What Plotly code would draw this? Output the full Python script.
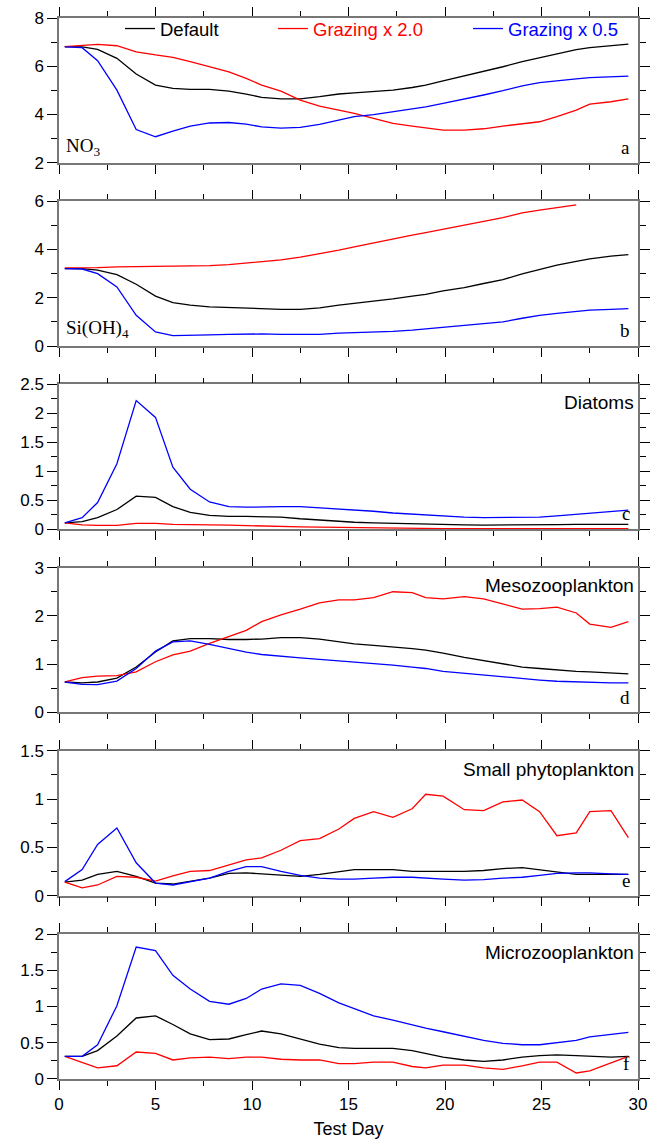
import plotly.graph_objects as go
from plotly.subplots import make_subplots

# ---------------- data ----------------
days = [0.3, 1.2, 2.0, 3.0, 4.0, 5.0, 5.9, 6.8, 7.8, 8.8, 9.7, 10.5, 11.5, 12.5, 13.5, 14.5,
        15.3, 16.3, 17.3, 18.3, 19.0, 19.9, 21.0, 22.0, 23.0, 24.0, 24.9, 25.8, 26.8, 27.5, 28.6, 29.5]

series_names = ["Default", "Grazing x 2.0", "Grazing x 0.5"]

no3_default = [6.81, 6.80, 6.70, 6.33, 5.68, 5.22, 5.08, 5.04, 5.04, 4.97, 4.85, 4.71, 4.65, 4.65, 4.74, 4.85,
               4.90, 4.94, 5.01, 5.12, 5.22, 5.39, 5.59, 5.77, 5.98, 6.19, 6.35, 6.51, 6.69, 6.77, 6.85, 6.92]
no3_g2 = [6.81, 6.85, 6.91, 6.85, 6.60, 6.47, 6.37, 6.19, 5.98, 5.77, 5.50, 5.22, 4.97, 4.60, 4.35, 4.18,
          4.05, 3.84, 3.63, 3.52, 3.44, 3.35, 3.35, 3.41, 3.52, 3.62, 3.70, 3.91, 4.18, 4.43, 4.53, 4.65]
no3_g05 = [6.80, 6.77, 6.23, 5.01, 3.38, 3.08, 3.31, 3.52, 3.65, 3.67, 3.60, 3.49, 3.44, 3.47, 3.59, 3.77,
           3.91, 4.00, 4.11, 4.24, 4.32, 4.46, 4.63, 4.81, 4.99, 5.19, 5.32, 5.41, 5.48, 5.53, 5.57, 5.59]

si_default = [3.21, 3.21, 3.14, 2.96, 2.56, 2.07, 1.80, 1.69, 1.62, 1.59, 1.56, 1.53, 1.52, 1.52, 1.58, 1.69,
              1.76, 1.84, 1.95, 2.07, 2.14, 2.28, 2.42, 2.59, 2.75, 2.99, 3.17, 3.35, 3.51, 3.61, 3.72, 3.79]
si_g2 = [3.24, 3.24, 3.25, 3.28, 3.29, 3.28, 3.28, 3.30, 3.33, 3.37, 3.43, 3.50, 3.57, 3.68, 3.82, 3.97,
         4.11, 4.26, 4.44, 4.59, 4.70, 4.83, 4.99, 5.16, 5.32, 5.52, 5.63, 5.72, 5.85, None, None, None]
si_g05 = [3.21, 3.19, 3.00, 2.45, 1.27, 0.58, 0.43, 0.43, 0.46, 0.48, 0.50, 0.50, 0.48, 0.47, 0.48, 0.53,
          0.55, 0.57, 0.61, 0.66, 0.71, 0.76, 0.83, 0.90, 1.00, 1.15, 1.27, 1.35, 1.45, 1.49, 1.52, 1.55]

dia_default = [0.11, 0.13, 0.20, 0.34, 0.57, 0.55, 0.39, 0.29, 0.24, 0.22, 0.22, 0.22, 0.21, 0.18, 0.155, 0.13,
               0.12, 0.11, 0.10, 0.10, 0.09, 0.08, 0.075, 0.07, 0.07, 0.075, 0.075, 0.08, 0.085, 0.085, 0.085, 0.085]
dia_g2 = [0.11, 0.075, 0.065, 0.065, 0.10, 0.10, 0.085, 0.075, 0.075, 0.07, 0.06, 0.06, 0.045, 0.04, 0.035, 0.03,
          0.025, 0.02, 0.02, 0.015, 0.015, 0.01, 0.01, 0.01, 0.01, 0.01, 0.01, 0.01, 0.01, 0.01, 0.01, 0.01]
dia_g05 = [0.11, 0.20, 0.46, 1.13, 2.22, 1.93, 1.07, 0.69, 0.47, 0.39, 0.38, 0.39, 0.39, 0.39, 0.37, 0.35,
           0.33, 0.31, 0.28, 0.26, 0.24, 0.23, 0.21, 0.20, 0.20, 0.20, 0.21, 0.23, 0.26, 0.28, 0.31, 0.33]

meso_default = [0.63, 0.61, 0.63, 0.71, 0.94, 1.25, 1.48, 1.53, 1.53, 1.51, 1.51, 1.52, 1.55, 1.55, 1.52, 1.46,
                1.42, 1.39, 1.36, 1.32, 1.29, 1.23, 1.14, 1.07, 1.00, 0.94, 0.91, 0.88, 0.85, 0.84, 0.81, 0.80]
meso_g2 = [0.63, 0.72, 0.75, 0.76, 0.84, 1.05, 1.19, 1.27, 1.43, 1.57, 1.70, 1.88, 2.02, 2.14, 2.27, 2.33,
           2.33, 2.38, 2.50, 2.48, 2.38, 2.35, 2.40, 2.35, 2.25, 2.14, 2.15, 2.18, 2.06, 1.83, 1.76, 1.88]
meso_g05 = [0.63, 0.58, 0.575, 0.65, 0.91, 1.27, 1.46, 1.48, 1.41, 1.32, 1.25, 1.20, 1.16, 1.13, 1.10, 1.07,
            1.05, 1.02, 0.98, 0.94, 0.91, 0.85, 0.81, 0.77, 0.73, 0.69, 0.67, 0.645, 0.63, 0.62, 0.61, 0.61]

sp_default = [0.14, 0.16, 0.22, 0.25, 0.20, 0.13, 0.12, 0.145, 0.18, 0.23, 0.235, 0.225, 0.21, 0.20, 0.22, 0.25,
              0.27, 0.27, 0.27, 0.25, 0.25, 0.25, 0.25, 0.26, 0.28, 0.29, 0.27, 0.25, 0.22, 0.22, 0.22, 0.22]
sp_g2 = [0.14, 0.08, 0.11, 0.20, 0.19, 0.15, 0.205, 0.25, 0.26, 0.32, 0.37, 0.39, 0.47, 0.57, 0.59, 0.69,
         0.80, 0.87, 0.81, 0.90, 1.05, 1.03, 0.89, 0.88, 0.97, 0.99, 0.87, 0.62, 0.65, 0.87, 0.88, 0.60]
sp_g05 = [0.145, 0.27, 0.53, 0.70, 0.34, 0.13, 0.11, 0.14, 0.18, 0.25, 0.30, 0.30, 0.25, 0.21, 0.18, 0.17,
          0.17, 0.18, 0.19, 0.19, 0.18, 0.17, 0.16, 0.165, 0.18, 0.19, 0.21, 0.23, 0.235, 0.235, 0.225, 0.22]

micro_default = [0.31, 0.31, 0.39, 0.59, 0.84, 0.87, 0.75, 0.62, 0.54, 0.55, 0.61, 0.66, 0.62, 0.55, 0.48, 0.43,
                 0.42, 0.42, 0.42, 0.39, 0.35, 0.30, 0.26, 0.24, 0.26, 0.30, 0.32, 0.33, 0.32, 0.31, 0.30, 0.31]
micro_g2 = [0.31, 0.23, 0.15, 0.18, 0.37, 0.35, 0.26, 0.29, 0.30, 0.28, 0.30, 0.30, 0.27, 0.26, 0.26, 0.21,
            0.21, 0.23, 0.23, 0.17, 0.15, 0.19, 0.19, 0.15, 0.13, 0.18, 0.23, 0.23, 0.08, 0.11, 0.22, 0.31]
micro_g05 = [0.31, 0.31, 0.47, 1.01, 1.82, 1.77, 1.43, 1.24, 1.07, 1.03, 1.11, 1.24, 1.31, 1.29, 1.18, 1.05,
             0.97, 0.87, 0.81, 0.74, 0.70, 0.65, 0.59, 0.53, 0.49, 0.47, 0.47, 0.50, 0.53, 0.58, 0.61, 0.64]

panel_series = [
    (no3_default, no3_g2, no3_g05),
    (si_default, si_g2, si_g05),
    (dia_default, dia_g2, dia_g05),
    (meso_default, meso_g2, meso_g05),
    (sp_default, sp_g2, sp_g05),
    (micro_default, micro_g2, micro_g05),
]
panel_titles = ["NO<sub>3</sub>", "Si(OH)<sub>4</sub>", "Diatoms", "Mesozooplankton",
                "Small phytoplankton", "Microzooplankton"]
panel_letters = ["a", "b", "c", "d", "e", "f"]
y_ranges = [[2, 8], [0, 6], [0, 2.5], [0, 3], [0, 1.5], [0, 2]]
y_dticks = [2, 2, 0.5, 1, 0.5, 0.5]
y_minor = [1, 1, 0.25, 0.5, 0.25, 0.25]
x_ticks = [0, 5, 10, 15, 20, 25, 30]
x_label = "Test Day"

# ---------------- layout ----------------
W, H = 655, 1139
ML, MR, MT, MB = 59, 17, 18, 60
plot_h = H - MT - MB
panel_h = 144.8
gap = 38.4

colors = ["#000000", "#ff0000", "#0000ff"]
SANS = "Liberation Sans, Arial, sans-serif"
SERIF = "Liberation Serif, Times New Roman, serif"

fig = make_subplots(rows=6, cols=1, shared_xaxes=False)

for i, trio in enumerate(panel_series):
    for j, vals in enumerate(trio):
        fig.add_trace(go.Scatter(
            x=days, y=vals, mode="lines", name=series_names[j],
            line=dict(color=colors[j], width=1.3),
            showlegend=(i == 0), legend=["legend", "legend2", "legend3"][j],
            connectgaps=False,
        ), row=i + 1, col=1)

for i in range(6):
    top_px = MT + i * (panel_h + gap)
    bot_px = top_px + panel_h
    d0 = 1 - (bot_px - MT) / plot_h
    d1 = 1 - (top_px - MT) / plot_h
    ax = "" if i == 0 else str(i + 1)
    fig.layout["yaxis" + ax].domain = [max(d0, 0), min(d1, 1)]
    fig.update_yaxes(
        range=y_ranges[i], dtick=y_dticks[i], tick0=0,
        ticks="outside", ticklen=10, tickwidth=1.3, tickcolor="black",
        showline=True, linecolor="#777", linewidth=1.5, mirror="allticks",
        showgrid=False, zeroline=False,
        minor=dict(dtick=y_minor[i], tick0=0, ticks="outside", ticklen=6,
                   tickwidth=1.3, tickcolor="black", showgrid=False),
        tickfont=dict(family=SANS, size=17, color="black"),
        row=i + 1, col=1)
    fig.update_xaxes(
        range=[0, 30], tickvals=x_ticks, showticklabels=(i == 5),
        ticks="outside", ticklen=9, tickwidth=1.3, tickcolor="black",
        showline=True, linecolor="#777", linewidth=1.5, mirror="allticks",
        showgrid=False, zeroline=False,
        minor=dict(dtick=2.5, tick0=0, ticks="outside", ticklen=5,
                   tickwidth=1.3, tickcolor="black", showgrid=False),
        tickfont=dict(family=SANS, size=17, color="black"),
        row=i + 1, col=1)

fig.update_xaxes(title=dict(text=x_label, font=dict(family=SANS, size=18, color="black"), standoff=9),
                 row=6, col=1)

# panel titles and letters
for i in range(6):
    xr = "x domain" if i == 0 else f"x{i+1} domain"
    yr = "y domain" if i == 0 else f"y{i+1} domain"
    if i < 2:
        fig.add_annotation(text=panel_titles[i], xref=xr, yref=yr, x=0.008, y=0.01 if i == 0 else 0.02,
                           xanchor="left", yanchor="bottom", showarrow=False,
                           font=dict(family=SERIF, size=19, color="black"))
    else:
        fig.add_annotation(text=panel_titles[i], xref=xr, yref=yr, x=0.996, y=0.96,
                           xanchor="right", yanchor="top", showarrow=False,
                           font=dict(family=SANS, size=19, color="black"))
    fig.add_annotation(text=panel_letters[i], xref=xr, yref=yr, x=0.99, y=0.02,
                       xanchor="right", yanchor="bottom", showarrow=False,
                       font=dict(family=SERIF, size=19, color="black"))

def px_x(p):
    return (p - ML) / (W - ML - MR)

def px_y(p):
    return 1 - (p - MT) / plot_h

leg_common = dict(orientation="h", yanchor="middle", xanchor="left", bgcolor="rgba(0,0,0,0)",
                  borderwidth=0, y=px_y(29))
fig.update_layout(
    width=W, height=H,
    margin=dict(l=ML, r=MR, t=MT, b=MB, autoexpand=False),
    paper_bgcolor="white", plot_bgcolor="white",
    font=dict(family=SANS, size=17, color="black"),
    legend=dict(**leg_common, x=px_x(120), font=dict(family=SANS, size=18.5, color="black")),
    legend2=dict(**leg_common, x=px_x(273), font=dict(family=SANS, size=18.5, color="#ff0000")),
    legend3=dict(**leg_common, x=px_x(468), font=dict(family=SANS, size=18.5, color="#0000ff")),
)

fig.write_html(
    "out.html",
    config={"displayModeBar": False},
    post_script="document.body.style.margin='0';document.body.style.overflow='hidden';",
)
